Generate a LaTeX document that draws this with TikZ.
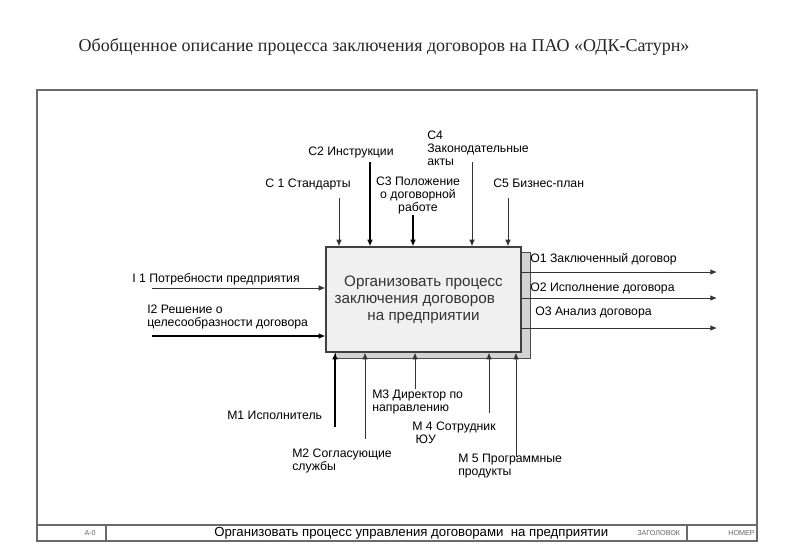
\documentclass[tikz,border=0pt]{standalone}
\usepackage{fontspec}
\setmainfont{Liberation Serif}
\newfontfamily\arialf{Liberation Sans}
\usetikzlibrary{arrows.meta}
\definecolor{framegray}{HTML}{6A6A6A}
\definecolor{boxfill}{HTML}{F0F0F0}
\definecolor{shadowfill}{HTML}{D2D2D2}
\definecolor{boxtext}{HTML}{333333}
\begin{document}
\begin{tikzpicture}[x=0.75pt,y=-0.75pt,
  lbl/.style={font=\arialf\fontsize{9.2}{9.75}\selectfont, inner sep=0pt, text=black, align=left},
  thinarr/.style={draw=black!80, line width=0.75pt, -{Latex[length=5pt,width=4.2pt]}},
  thickarr/.style={draw=black, line width=1.4pt, -{Latex[length=5pt,width=4.2pt]}},
  foot/.style={font=\arialf\fontsize{5.4}{6}\selectfont, inner sep=0pt, text=black!60}
]
\useasboundingbox[fill=white] (0,0) rectangle (800,554);

% title
\node[font=\fontsize{13.5}{15}\selectfont, text=black!85, inner sep=0pt] (title) at (384,47)
  {Обобщенное описание процесса заключения договоров на ПАО «ОДК-Сатурн»};

% outer frame and footer
\draw[draw=framegray, line width=1.1pt] (37,90) rectangle (757,541);
\draw[draw=framegray, line width=1.1pt] (37,525) -- (757,525);
\draw[draw=framegray, line width=1pt] (106,525) -- (106,541);
\draw[draw=framegray, line width=1pt] (687,525) -- (687,541);
\node[foot, anchor=east] (fa) at (96,533) {A-0};
\node[font=\arialf\fontsize{9.9}{10}\selectfont, inner sep=0pt, text=black, anchor=west] (ft) at (214,533)
  {Организовать процесс управления договорами\ \ на предприятии};
\node[foot, anchor=west] (fz) at (637,533) {ЗАГОЛОВОК};
\node[foot, anchor=east] (fn) at (755,533) {НОМЕР};

% shadow and box
\fill[shadowfill, draw=black!70, line width=0.75pt] (335,252) rectangle (530,358);
\node[draw=black!75, line width=0.9pt, fill=boxfill, minimum width=146.25pt, minimum height=78.75pt,
      inner sep=0pt, align=center, font=\arialf\fontsize{11.4}{12.75}\selectfont, text=boxtext] (box) at (423.5,299.5)
  {Организовать процесс\\заключения договоров\rule{13pt}{0pt}\\на предприятии};

% controls
\coordinate (c1s) at (339,198);
\coordinate (c2s) at (370,162);
\coordinate (c3s) at (413,215);
\coordinate (c4s) at (472,162);
\coordinate (c5s) at (508,198);
\draw[thinarr] (c1s) -- (c1s |- box.north);
\draw[thickarr] (c2s) -- (c2s |- box.north);
\draw[thickarr] (c3s) -- (c3s |- box.north);
\draw[thinarr] (c4s) -- (c4s |- box.north);
\draw[thinarr] (c5s) -- (c5s |- box.north);
\node[lbl, anchor=west] (c1l) at (265,184) {С 1 Стандарты};
\node[lbl, anchor=west] (c2l) at (308,152) {С2 Инструкции};
\node[lbl, align=center] (c3l) at (418,195) {С3 Положение\\о договорной\\работе};
\node[lbl, anchor=west] (c4l) at (427,148.5) {С4\\Законодательные\\акты};
\node[lbl, anchor=west] (c5l) at (493,183) {С5 Бизнес-план};

% inputs
\coordinate (i1s) at (152,288);
\coordinate (i2s) at (152,336);
\draw[thinarr] (i1s) -- (i1s -| box.west);
\draw[thickarr] (i2s) -- (i2s -| box.west);
\node[lbl, anchor=west] (i1l) at (132,279) {I 1 Потребности предприятия};
\node[lbl, anchor=west] (i2l) at (147,316.5) {I2 Решение о\\целесообразности договора};

% outputs
\coordinate (o1e) at (717,272);
\coordinate (o2e) at (717,298);
\coordinate (o3e) at (717,328);
\draw[thinarr] (box.east |- o1e) -- (o1e);
\draw[thinarr] (box.east |- o2e) -- (o2e);
\draw[thinarr] (box.east |- o3e) -- (o3e);
\node[lbl, anchor=west] (o1l) at (530,259) {О1 Заключенный договор};
\node[lbl, anchor=west] (o2l) at (530,288) {О2 Исполнение договора};
\node[lbl, anchor=west] (o3l) at (535,312) {О3 Анализ договора};

% mechanisms
\coordinate (m1s) at (335,427);
\coordinate (m2s) at (365,439);
\coordinate (m3s) at (415,389);
\coordinate (m4s) at (489,413);
\coordinate (m5s) at (516,457);
\draw[thickarr] (m1s) -- (m1s |- box.south);
\draw[thinarr] (m2s) -- (m2s |- box.south);
\draw[thinarr] (m3s) -- (m3s |- box.south);
\draw[thinarr] (m4s) -- (m4s |- box.south);
\draw[thinarr] (m5s) -- (m5s |- box.south);
\node[lbl, anchor=west] (m1l) at (227,415) {М1 Исполнитель};
\node[lbl, anchor=west] (m2l) at (292,460.5) {М2 Согласующие\\службы};
\node[lbl, anchor=west] (m3l) at (372,401.5) {М3 Директор по\\направлению};
\node[lbl, anchor=west] (m4l) at (412,432.5) {М 4 Сотрудник\\\ ЮУ};
\node[lbl, anchor=west] (m5l) at (458,466) {М 5 Программные\\продукты};
\end{tikzpicture}
\end{document}
